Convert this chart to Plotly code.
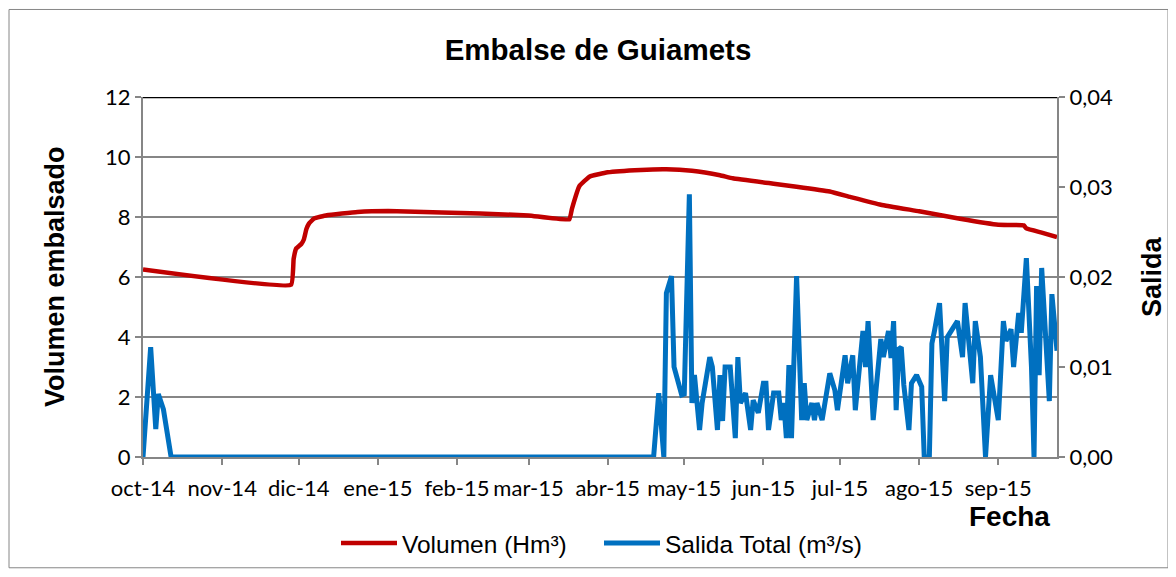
import plotly.graph_objects as go

# ---- Data ----
vol_dates = ["2014-10-01", "2014-11-28", "2014-11-29", "2014-11-30", "2014-12-02",
             "2014-12-03", "2014-12-04", "2014-12-05", "2014-12-07", "2014-12-12",
             "2014-12-24", "2015-01-05", "2015-01-26", "2015-02-10", "2015-03-01",
             "2015-03-17", "2015-03-18", "2015-03-21", "2015-03-25", "2015-04-01",
             "2015-04-14", "2015-04-24", "2015-05-04", "2015-05-15", "2015-05-20",
             "2015-06-05", "2015-06-14", "2015-06-27", "2015-07-05", "2015-07-17",
             "2015-08-01", "2015-08-17", "2015-09-01", "2015-09-11", "2015-09-12",
             "2015-09-18", "2015-09-24"]
vol_values = [6.25, 5.74, 6.60, 6.95, 7.10,
              7.25, 7.60, 7.78, 7.95, 8.06,
              8.17, 8.20, 8.15, 8.12, 8.05,
              7.92, 8.27, 9.04, 9.35, 9.49,
              9.57, 9.59, 9.54, 9.39, 9.29,
              9.11, 9.01, 8.85, 8.67, 8.41,
              8.19, 7.94, 7.74, 7.72, 7.62,
              7.48, 7.33]

out_dates = ["2014-10-01", "2014-10-02", "2014-10-04", "2014-10-06", "2014-10-07",
             "2014-10-09", "2014-10-10", "2014-10-12",
             "2015-04-19", "2015-04-21", "2015-04-23", "2015-04-24", "2015-04-26",
             "2015-04-27", "2015-04-30", "2015-05-01", "2015-05-03", "2015-05-04",
             "2015-05-05", "2015-05-07", "2015-05-08", "2015-05-11", "2015-05-12",
             "2015-05-14", "2015-05-15", "2015-05-16", "2015-05-17", "2015-05-19",
             "2015-05-21", "2015-05-22", "2015-05-23", "2015-05-25", "2015-05-27",
             "2015-05-28", "2015-05-30", "2015-06-01", "2015-06-02", "2015-06-03",
             "2015-06-05", "2015-06-07", "2015-06-08", "2015-06-09", "2015-06-10",
             "2015-06-11", "2015-06-12", "2015-06-14", "2015-06-16", "2015-06-17",
             "2015-06-18", "2015-06-20", "2015-06-21", "2015-06-22", "2015-06-24",
             "2015-06-27", "2015-06-29", "2015-06-30", "2015-07-03", "2015-07-04",
             "2015-07-06", "2015-07-07", "2015-07-10", "2015-07-11", "2015-07-12",
             "2015-07-14", "2015-07-17", "2015-07-18", "2015-07-20", "2015-07-21",
             "2015-07-22", "2015-07-23", "2015-07-24", "2015-07-25", "2015-07-26",
             "2015-07-28", "2015-07-29", "2015-07-31", "2015-08-02", "2015-08-03",
             "2015-08-05", "2015-08-06", "2015-08-07", "2015-08-09", "2015-08-11",
             "2015-08-12", "2015-08-14", "2015-08-16", "2015-08-18", "2015-08-19",
             "2015-08-22", "2015-08-23", "2015-08-25", "2015-08-27", "2015-08-29",
             "2015-09-01", "2015-09-03", "2015-09-04", "2015-09-06", "2015-09-07",
             "2015-09-09", "2015-09-10", "2015-09-12", "2015-09-14", "2015-09-15",
             "2015-09-16", "2015-09-17", "2015-09-18", "2015-09-21", "2015-09-22",
             "2015-09-24"]
out_values = [0.0, 0.0042, 0.0122, 0.0031, 0.0070,
              0.0053, 0.0036, 0.0,
              0.0, 0.0071, 0.0, 0.0182, 0.0201,
              0.0100, 0.0069, 0.0070, 0.0292, 0.0060,
              0.0091, 0.0030, 0.0060, 0.0111, 0.0100,
              0.0030, 0.0091, 0.0040, 0.0100, 0.0100,
              0.0021, 0.0111, 0.0060, 0.0071, 0.0030,
              0.0063, 0.0049, 0.0082, 0.0082, 0.0030,
              0.0071, 0.0071, 0.0041, 0.0060, 0.0021,
              0.0102, 0.0021, 0.0201, 0.0041, 0.0082,
              0.0041, 0.0060, 0.0041, 0.0060, 0.0041,
              0.0093, 0.0074, 0.0052, 0.0113, 0.0082,
              0.0113, 0.0052, 0.0140, 0.0100, 0.0151,
              0.0041, 0.0131, 0.0111, 0.0140, 0.0110,
              0.0151, 0.0052, 0.0120, 0.0122, 0.0080,
              0.0030, 0.0082, 0.0091, 0.0078, 0.0,
              0.0, 0.0126, 0.0140, 0.0171, 0.0062,
              0.0133, 0.0142, 0.0151, 0.0111, 0.0171,
              0.0082, 0.0151, 0.0111, 0.0, 0.0091,
              0.0041, 0.0151, 0.0129, 0.0142, 0.0100,
              0.0160, 0.0138, 0.0221, 0.0100, 0.0,
              0.0190, 0.0091, 0.0210, 0.0062, 0.0181,
              0.0118]

tick_dates = ["2014-10-01", "2014-11-01", "2014-12-01", "2015-01-01", "2015-02-01",
              "2015-03-01", "2015-04-01", "2015-05-01", "2015-06-01", "2015-07-01",
              "2015-08-01", "2015-09-01"]
tick_labels = ["oct-14", "nov-14", "dic-14", "ene-15", "feb-15", "mar-15",
               "abr-15", "may-15", "jun-15", "jul-15", "ago-15", "sep-15"]

RED = "#C00000"
BLUE = "#0070C0"
GRID = "#868686"
TICKFONT = dict(family="Lato, Carlito, Calibri, sans-serif", size=22, color="#000000")
ARIAL = "Liberation Sans, Arial, sans-serif"

# figure geometry (page body has an 8px margin)
W, H = 1168, 569
L, R, T, B = 135, 119, 89, 116
PW, PH = W - L - R, H - T - B

fig = go.Figure()
fig.add_trace(go.Scatter(x=vol_dates, y=vol_values, mode="lines", name="Volumen (Hm³)",
                         line=dict(color=RED, width=4.5, shape="spline", smoothing=0.3),
                         yaxis="y", legend="legend"))
fig.add_trace(go.Scatter(x=out_dates, y=out_values, mode="lines", name="Salida Total (m³/s)",
                         line=dict(color=BLUE, width=5), yaxis="y2", legend="legend2"))

leg_common = dict(orientation="h", yanchor="middle", y=-87 / PH, xanchor="left",
                  font=dict(family=ARIAL, size=24.5, color="#000000"),
                  itemwidth=56, bgcolor="rgba(0,0,0,0)", borderwidth=0)

fig.update_layout(
    width=W, height=H,
    paper_bgcolor="white", plot_bgcolor="white",
    margin=dict(l=L, r=R, t=T, b=B),
    separators=",.",
    showlegend=True,
    title=dict(text="<b>Embalse de Guiamets</b>", x=590 / W, xanchor="center",
               y=1 - 42 / H, yanchor="middle",
               font=dict(family=ARIAL, size=29.5, color="#000000")),
    xaxis=dict(type="date", range=["2014-10-01", "2015-09-24"],
               tickvals=tick_dates, ticktext=tick_labels,
               ticks="outside", ticklen=6, tickwidth=1.5, tickcolor=GRID,
               ticklabelstandoff=5,
               showgrid=False, showline=True, linecolor=GRID, linewidth=2,
               tickfont=TICKFONT, zeroline=False),
    yaxis=dict(range=[0, 12], dtick=2, tickformat="d",
               ticks="outside", ticklen=6, tickwidth=1.5, tickcolor=GRID,
               showgrid=True, gridcolor=GRID, gridwidth=2,
               showline=True, linecolor=GRID, linewidth=2,
               zeroline=False, tickfont=TICKFONT),
    yaxis2=dict(range=[0, 0.04], dtick=0.01, tickformat=".2f", overlaying="y", side="right",
                ticks="outside", ticklen=6, tickwidth=1.5, tickcolor=GRID,
                showgrid=False, showline=True, linecolor=GRID, linewidth=2,
                zeroline=False, tickfont=TICKFONT),
    legend=dict(leg_common, x=(328 - L) / PW),
    legend2=dict(leg_common, x=(591 - L) / PW),
    annotations=[
        dict(text="<b>Volumen embalsado</b>", xref="paper", yref="paper",
             x=(47 - L) / PW, y=0.5, xanchor="center", yanchor="middle", textangle=-90,
             showarrow=False, font=dict(family=ARIAL, size=27, color="#000000")),
        dict(text="<b>Salida</b>", xref="paper", yref="paper",
             x=(1144 - L) / PW, y=0.5, xanchor="center", yanchor="middle", textangle=-90,
             showarrow=False, font=dict(family=ARIAL, size=27, color="#000000")),
        dict(text="<b>Fecha</b>", xref="paper", yref="paper",
             x=(1001 - L) / PW, y=-60 / PH, xanchor="center", yanchor="middle",
             showarrow=False, font=dict(family=ARIAL, size=28, color="#000000")),
    ],
    shapes=[
        dict(type="line", xref="paper", yref="y", x0=0, x1=1, y0=12, y1=12,
             line=dict(color="#000000", width=2.5)),
        dict(type="rect", xref="paper", yref="paper",
             x0=(1 - L) / PW, x1=(1160 - L) / PW,
             y0=-112 / PH, y1=452.5 / PH,
             line=dict(color=GRID, width=1), layer="below"),
    ],
)

fig.write_html("out.html")
